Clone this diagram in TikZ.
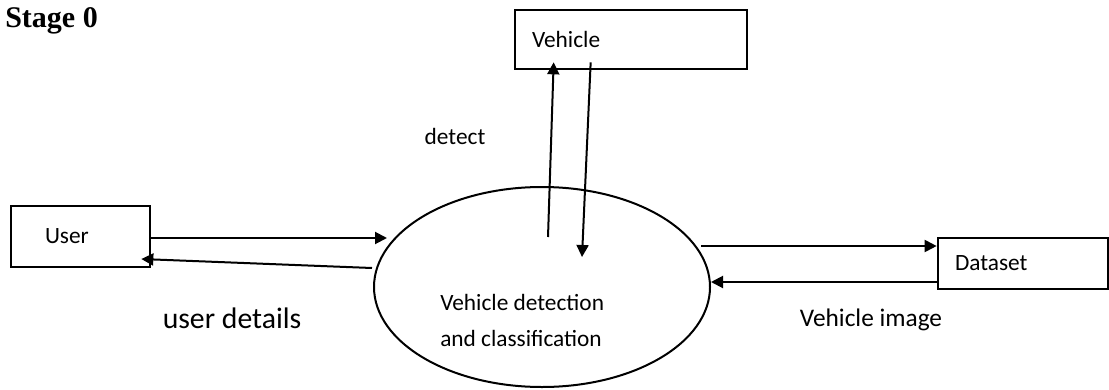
\documentclass[tikz,border=0pt]{standalone}
\usepackage{fontspec}
\setmainfont{Carlito}
\newfontfamily\stagefont{Liberation Serif}
\usepackage{tikz}
\usetikzlibrary{arrows.meta}
\usetikzlibrary{shapes,calc}

\tikzset{
    entity/.style={draw, line width=2pt, inner ysep=0pt, align=left, font=\fontsize{17.5}{21}\selectfont},
    process/.style={draw, ellipse, line width=1.5pt, inner sep=0pt, minimum width=252pt, minimum height=150pt},
    flow/.style={line width=1.5pt, -{Triangle[length=9pt,width=9pt]}},
}

\begin{document}
\begin{tikzpicture}[x=0.75pt, y=-0.75pt]
    \useasboundingbox (0, 0) rectangle (1109, 389);
    \node[anchor=base west, inner sep=0] (stage) at (5, 27) {\stagefont\bfseries\fontsize{22.5}{27}\selectfont Stage 0};

    \node[entity, minimum height=44.25pt, text width=148.5pt, inner xsep=12.75pt] (vehicle) at (631, 39.5) {Vehicle};
    \node[entity, minimum height=45.75pt, text width=53.25pt, inner xsep=25.5pt] (user) at (80.5, 236.5) {User};
    \node[entity, minimum height=38.25pt, text width=102pt, inner xsep=12.75pt] (dataset) at (1023, 263.5) {Dataset};

    \node[process] (proc) at (542, 287) {};
    \node[anchor=west, align=left, inner sep=0, font=\fontsize{17.5}{27}\selectfont] (proclabel) at (440, 320) {Vehicle detection\\and classification};

    \coordinate (vUp) at (548, 237);
    \coordinate (vDown) at (582, 257);
    \draw[flow] (vUp) -- ($(vehicle.south west)+(40, -8)$);
    \draw[flow] ($(vehicle.south west)+(77, -8)$) -- (vDown);

    \draw[flow] ($(user.east)+(0, 1.5)$) -- ($(proc.west)+(14, -49)$);
    \draw[flow] ($(proc.west)+(-1, -19)$) -- ($(user.east)+(-10, 22.5)$);

    \draw[flow] ($(proc.east)+(-10, -41)$) -- ($(dataset.west)+(0, -17.5)$);
    \draw[flow] ($(dataset.west)+(0, 18.5)$) -- ($(proc.east)+(0, -5)$);

    \node[font=\fontsize{17.5}{21}\selectfont] (detectlbl) at (455, 136) {detect};
    \node[font=\fontsize{22.3}{27}\selectfont] (userlbl) at (232, 318) {user details};
    \node[font=\fontsize{19}{23}\selectfont] (imagelbl) at (871, 320) {Vehicle image};
\end{tikzpicture}
\end{document}
